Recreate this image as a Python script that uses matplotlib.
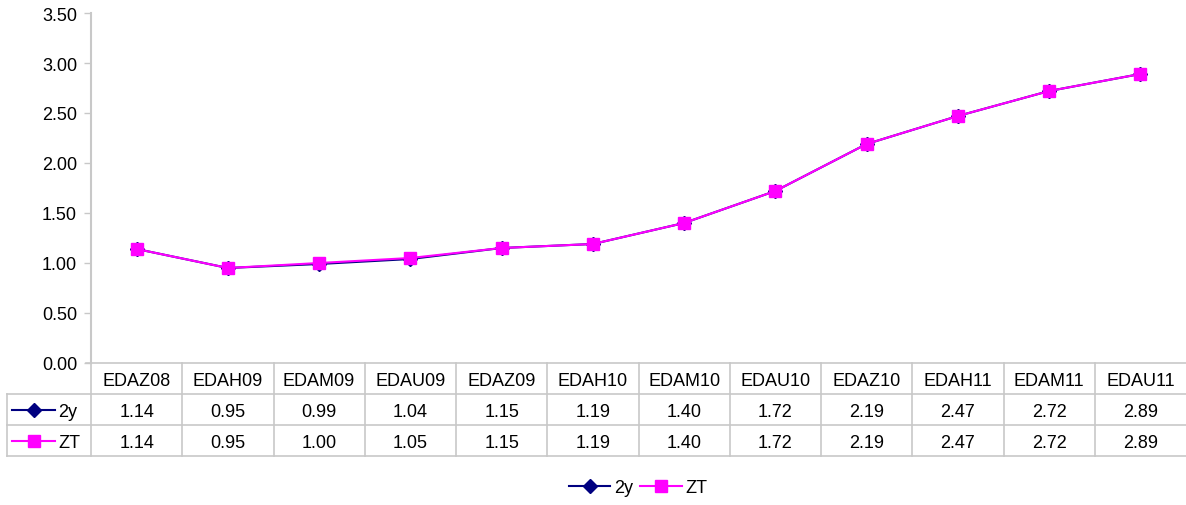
import numpy as np
import matplotlib.pyplot as plt
from matplotlib.lines import Line2D

plt.rcParams['font.family'] = ['Liberation Sans', 'DejaVu Sans']

# data
categories = ['EDAZ08', 'EDAH09', 'EDAM09', 'EDAU09', 'EDAZ09', 'EDAH10',
              'EDAM10', 'EDAU10', 'EDAZ10', 'EDAH11', 'EDAM11', 'EDAU11']
series_names = ['2y', 'ZT']
values_2y = [1.14, 0.95, 0.99, 1.04, 1.15, 1.19, 1.40, 1.72, 2.19, 2.47, 2.72, 2.89]
values_zt = [1.14, 0.95, 1.00, 1.05, 1.15, 1.19, 1.40, 1.72, 2.19, 2.47, 2.72, 2.89]
yticks = [0.0, 0.5, 1.0, 1.5, 2.0, 2.5, 3.0, 3.5]

W, H = 1186, 506
fig = plt.figure(figsize=(W / 100, H / 100), dpi=100)

grid_col = '#c8c8c8'
fs = 13
n = len(categories)
x = np.arange(n)

# main plot area in pixels
left, right, top, bottom = 91, 1186, 14, 364
ax = fig.add_axes([left / W, 1 - bottom / H, (right - left) / W, (bottom - top) / H])
ax.plot(x, values_2y, color='#000080', marker='D', markersize=7, lw=1.5, zorder=3)
ax.plot(x, values_zt, color='#ff00ff', marker='s', markersize=9, lw=1.5, zorder=4)
ax.set_xlim(-0.5, n - 0.5)
ax.set_ylim(0, 3.5)
ax.set_yticks(yticks)
ax.set_yticklabels([f'{v:.2f}' for v in yticks], fontsize=fs)
ax.set_xticks([])
for s in ['top', 'right', 'bottom']:
    ax.spines[s].set_visible(False)
ax.spines['left'].set_color(grid_col)
ax.spines['left'].set_linewidth(1.5)
ax.tick_params(axis='y', color=grid_col, length=5, width=1, pad=5)

# data table below the plot
px_per_unit = (right - left) / n
tleft = 7
tbottom = 457
tax = fig.add_axes([tleft / W, 1 - tbottom / H, (right - tleft) / W, (tbottom - bottom) / H])
xmin = -0.5 - (left - tleft) / px_per_unit
tax.set_xlim(xmin, n - 0.5)
tax.set_ylim(3, 0)
tax.axis('off')

kw = dict(color=grid_col, lw=1.2, clip_on=False)
tax.plot([-0.5 - 5 / px_per_unit, n - 0.5], [0, 0], **kw)
for r in [1, 2, 3]:
    tax.plot([xmin, n - 0.5], [r, r], **kw)
tax.plot([xmin, xmin], [1, 3], **kw)
for i in range(n):
    tax.plot([i - 0.5, i - 0.5], [0, 3], **kw)

for i, c in enumerate(categories):
    tax.text(i, 0.55, c, ha='center', va='center', fontsize=fs)
    tax.text(i, 1.55, f'{values_2y[i]:.2f}', ha='center', va='center', fontsize=fs)
    tax.text(i, 2.55, f'{values_zt[i]:.2f}', ha='center', va='center', fontsize=fs)

# legend keys inside the table
key_x0 = xmin + 5 / px_per_unit
key_x1 = xmin + 48 / px_per_unit
tax.plot([key_x0, key_x1], [1.5, 1.5], color='#000080', lw=1.5, clip_on=False)
tax.plot([(key_x0 + key_x1) / 2], [1.5], color='#000080', marker='D', markersize=7, clip_on=False)
tax.plot([key_x0, key_x1], [2.5, 2.5], color='#ff00ff', lw=1.5, clip_on=False)
tax.plot([(key_x0 + key_x1) / 2], [2.5], color='#ff00ff', marker='s', markersize=9, clip_on=False)
tax.text(key_x1 + 3 / px_per_unit, 1.55, series_names[0], ha='left', va='center', fontsize=fs)
tax.text(key_x1 + 3 / px_per_unit, 2.55, series_names[1], ha='left', va='center', fontsize=fs)

# bottom legend
handles = [Line2D([], [], color='#000080', marker='D', markersize=7, lw=1.5),
           Line2D([], [], color='#ff00ff', marker='s', markersize=9, lw=1.5)]
fig.legend(handles, series_names, loc='center', bbox_to_anchor=(638 / W, 1 - 489 / H),
           ncol=2, frameon=False, fontsize=fs, handlelength=2.3, handletextpad=0.2,
           columnspacing=0.4)

fig.savefig('out.png', dpi=100)
